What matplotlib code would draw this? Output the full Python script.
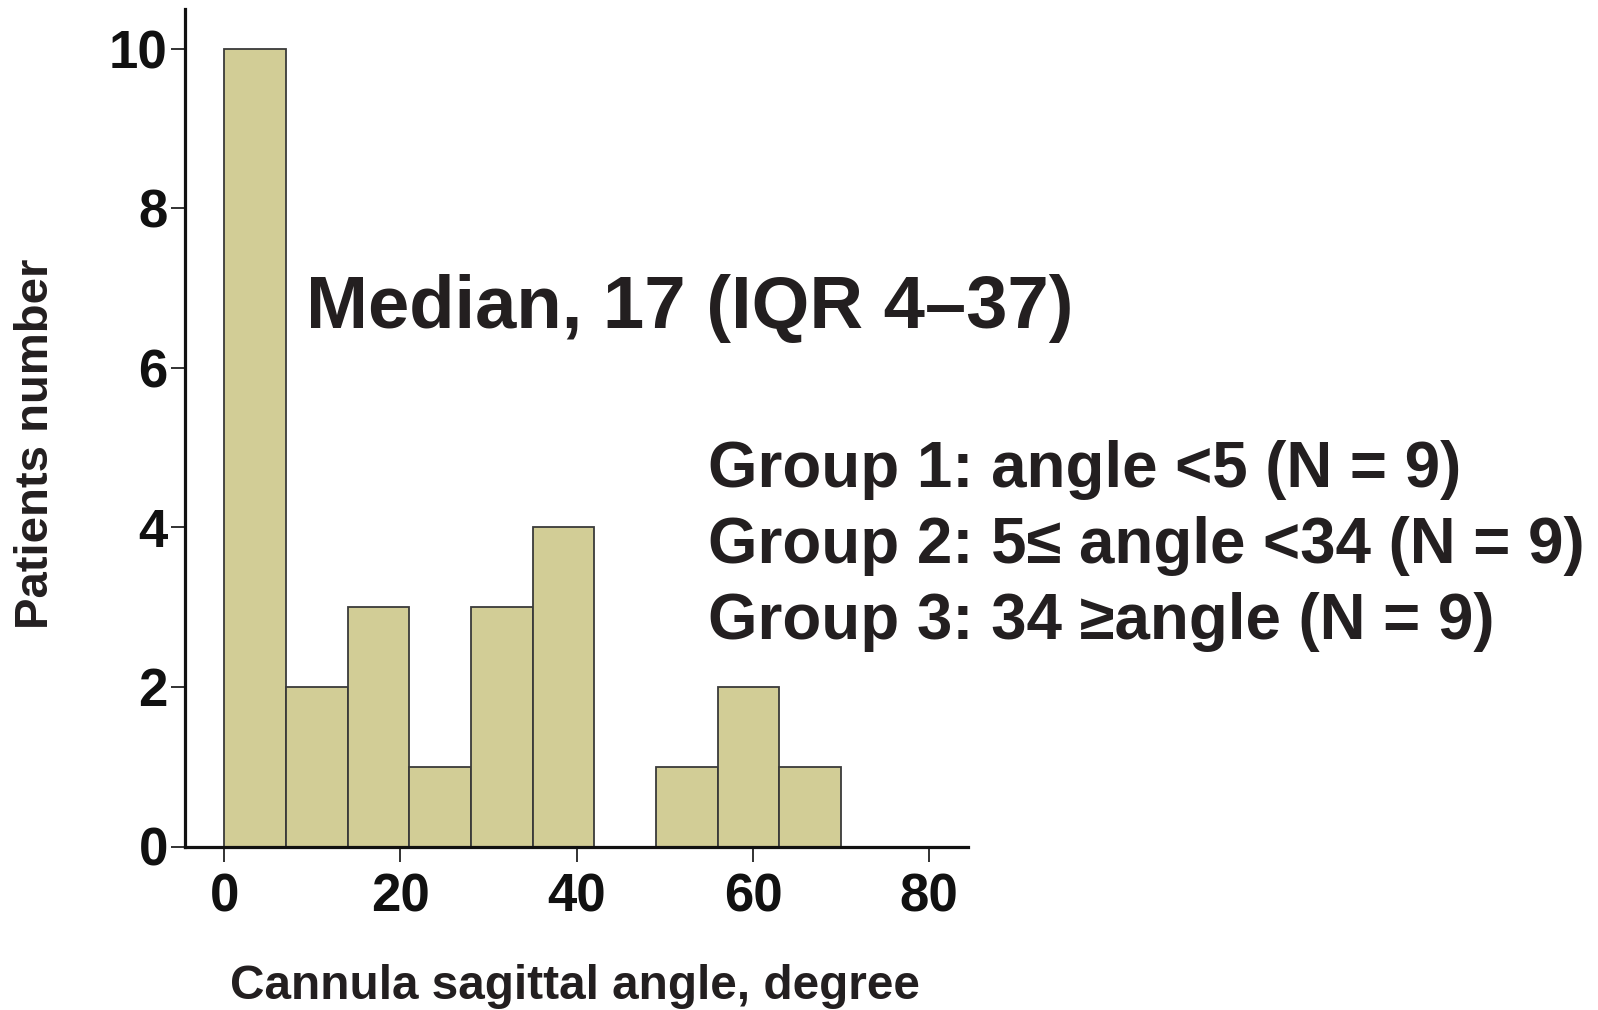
import matplotlib
matplotlib.use("Agg")
import matplotlib.pyplot as plt

# Data
bin_edges = [0, 7, 14, 21, 28, 35, 42, 49, 56, 63, 70]
counts = [10, 2, 3, 1, 3, 4, 0, 1, 2, 1]
x_ticks = [0, 20, 40, 60, 80]
y_ticks = [0, 2, 4, 6, 8, 10]
x_label = "Cannula sagittal angle, degree"
y_label = "Patients number"
median_text = "Median, 17 (IQR 4\u201337)"
group_lines = [
    "Group 1: angle <5 (N = 9)",
    "Group 2: 5\u2264 angle <34 (N = 9)",
    "Group 3: 34 \u2265angle (N = 9)",
]

FAM = ["Liberation Sans", "DejaVu Sans"]
TXT = "#231f20"
plt.rcParams["font.family"] = FAM
plt.rcParams["font.weight"] = "bold"

W, H = 1598, 1010
fig = plt.figure(figsize=(W / 100, H / 100), dpi=100)
ax = fig.add_axes([184.5 / W, 1 - 846.5 / H, (968 - 184.5) / W, (846.5 - 9.0) / H])

lefts = bin_edges[:-1]
widths = [b - a for a, b in zip(bin_edges[:-1], bin_edges[1:])]
ax.bar(lefts, counts, width=widths, align="edge", color="#d2cd96",
       edgecolor="#3a3a3a", linewidth=1.3, zorder=2)

ax.set_xlim(-4.5, 84.4)
ax.set_ylim(0, 10.5)
for s in ["top", "right"]:
    ax.spines[s].set_visible(False)
for s in ["left", "bottom"]:
    ax.spines[s].set_linewidth(2.3)
    ax.spines[s].set_color("#111111")
    ax.spines[s].set_zorder(3)

ax.set_xticks(x_ticks)
ax.set_yticks(y_ticks)
ax.tick_params(axis="x", direction="out", length=11, width=1.3, colors="#222222",
               labelcolor="#111111", pad=8)
ax.tick_params(axis="y", direction="out", length=10, width=1.3, colors="#222222",
               labelcolor="#111111", pad=2)
for lab in ax.get_xticklabels() + ax.get_yticklabels():
    lab.set_fontfamily(FAM)
    lab.set_fontsize(38)
    lab.set_fontweight("bold")

fig.text(575 / W, 1 - 999 / H, x_label, ha="center", va="baseline",
         fontsize=34.4, fontweight="bold", color=TXT)
fig.text(36 / W, 1 - 444 / H, y_label, ha="center", va="center", rotation=90,
         fontsize=34, fontweight="bold", color=TXT)

fig.text(306 / W, 1 - 328 / H, median_text, ha="left", va="baseline",
         fontsize=53.5, fontweight="bold", color=TXT)
baselines = [487, 563, 639]
for line, b in zip(group_lines, baselines):
    fig.text(708 / W, 1 - b / H, line, ha="left", va="baseline",
             fontsize=45.8, fontweight="bold", color=TXT)

fig.savefig("out.png", dpi=100)
